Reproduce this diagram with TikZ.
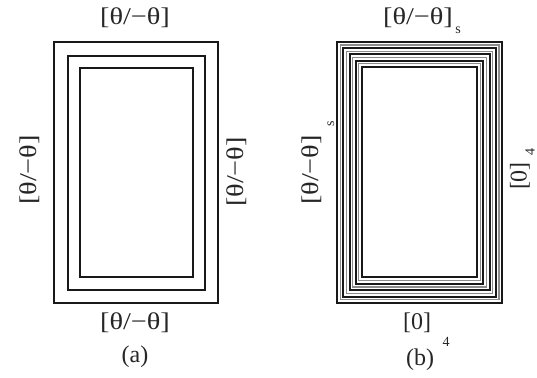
\documentclass[tikz,border=0pt]{standalone}
\usepackage{fontspec}
\setmainfont{Liberation Serif}
\newcommand{\tht}{\scalebox{1.18}[1]{[θ/−θ]}}
\begin{document}
\begin{tikzpicture}[x=1pt,y=-1pt,
  lbl/.style={font=\fontsize{24}{28}\selectfont, inner sep=0pt, text=black!85},
  sub/.style={font=\fontsize{14}{16}\selectfont, inner sep=0pt, text=black!85},
  frame/.style={draw=black!90, line width=2.4pt},
  thin/.style={draw=black!45, line width=1.2pt}]
\useasboundingbox (0,0) rectangle (537,377);
% (a)
\draw[frame] (54,42) rectangle (218,303);
\draw[frame] (68,56) rectangle (205,290);
\draw[frame] (80,68) rectangle (193,277);
\node[lbl] (at) at (135,18) {\tht};
\node[lbl] (ab) at (135,323) {\tht};
\node[lbl] (acap) at (135,357) {(a)};
\node[lbl, rotate=90] (al) at (30,170) {\tht};
\node[lbl, rotate=90] (ar) at (237,172) {\tht};
% (b)
\foreach \i in {0,1,2,3,4}{
  \draw[frame, line width=2pt] ({337+6.25*\i},{42+6.25*\i}) rectangle ({502-6.25*\i},{303-6.4*\i});
}
\foreach \i in {0,1,2,3}{
  \draw[thin] ({340.1+6.25*\i},{45.1+6.25*\i}) rectangle ({498.9-6.25*\i},{299.8-6.4*\i});
}
\node[lbl] (bt) at (418,18) {\tht};
\node[sub] (bts) at (458,30) {s};
\node[lbl] (bb) at (417,323) {[0]};
\node[sub] (bbs) at (446,342) {4};
\node[lbl] (bcap) at (420,360) {(b)};
\node[lbl, rotate=90] (bl) at (312,170) {\tht};
\node[sub, rotate=90] (bls) at (331,124) {s};
\node[lbl, rotate=90] (br) at (520,176) {[0]};
\node[sub, rotate=90] (brs) at (530,152) {4};
\end{tikzpicture}
\end{document}
